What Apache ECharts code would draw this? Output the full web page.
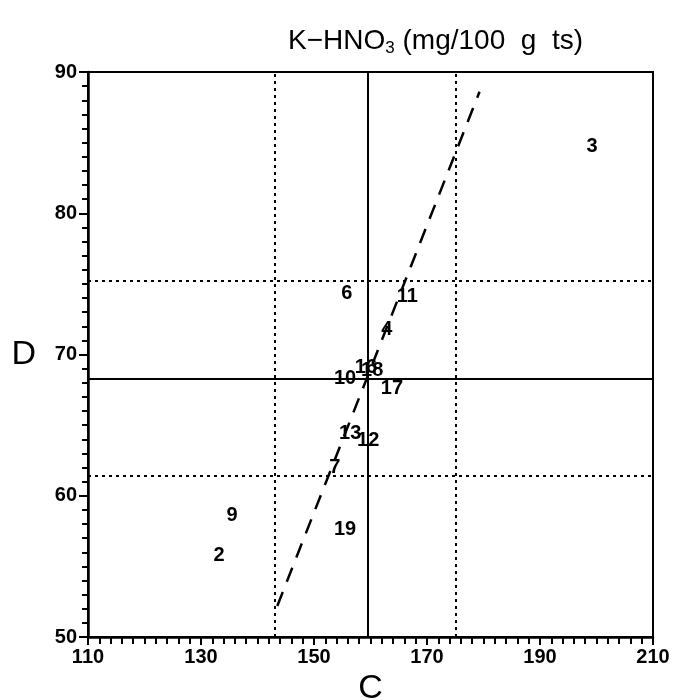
<!DOCTYPE html>
<html>
<head>
<meta charset="utf-8">
<script src="https://cdn.jsdelivr.net/npm/echarts@6/dist/echarts.min.js"></script>
<style>
html, body { margin: 0; padding: 0; background: #fff; }
#chart { width: 681px; height: 700px; }
</style>
</head>
<body>
<div id="chart"></div>
<script>
// point labels and their C / D values
var labels = ['3', '6', '11', '4', '10', '16', '18', '17', '13', '12', '7', '9', '2', '19'];
var cVals = [199.2, 155.8, 166.5, 162.9, 155.5, 159.2, 160.3, 163.8, 156.4, 159.6, 153.7, 135.5, 133.2, 155.5];
var dVals = [84.7, 74.3, 74.1, 71.8, 68.3, 69.1, 68.9, 67.6, 64.4, 63.9, 62.0, 58.6, 55.8, 57.6];

// mean and +/- sd lines
var cLines = [143.1, 159.5, 175.1];
var dLines = [61.4, 68.3, 75.25];
var lineKinds = ['dotted', 'solid', 'dotted'];

// regression line end points
var regC = [143.5, 179.3];
var regD = [52.2, 88.6];

function initPage() {
	var myChart = echarts.init(document.getElementById('chart'));
	var font = 'Liberation Sans';

	var pts = [];
	for (var i = 0; i < labels.length; i++) {
		pts.push({ value: [cVals[i], dVals[i]], name: labels[i] });
	}
	var marks = [];
	for (var j = 0; j < cLines.length; j++) {
		var t = lineKinds[j] === 'solid' ? 'solid' : [3, 4];
		marks.push({ xAxis: cLines[j], lineStyle: { type: t, width: 2, color: '#000' } });
		marks.push({ yAxis: dLines[j], lineStyle: { type: t, width: 2, color: '#000' } });
	}

	myChart.setOption({
		animation : false,
		title : {
			text : '{a|K\u2212HNO}{s|3}{a| (mg/100  g  ts)}',
			left : 283,
			top : 21,
			textStyle : {
				fontWeight : 'normal',
				rich : {
					a : { fontFamily : font, fontWeight : 'normal', fontSize : 28, color : '#000' },
					s : { fontFamily : font, fontWeight : 'normal', fontSize : 17, color : '#000', verticalAlign : 'bottom', padding : [14, 0, 0, 0] }
				}
			}
		},
		grid : {
			left : 88,
			right : 28,
			top : 72,
			bottom : 63,
			outerBoundsMode : 'none',
			containLabel : false,
			show : true,
			borderColor : '#000',
			borderWidth : 2
		},
		xAxis : {
			type : 'value',
			min : 110,
			max : 210,
			interval : 20,
			name : 'C',
			nameLocation : 'middle',
			nameGap : 33,
			nameTextStyle : { fontFamily : font, fontSize : 34, color : '#000' },
			axisLine : { lineStyle : { color : '#000', width : 2.5 } },
			axisTick : { inside : false, length : 8, lineStyle : { width : 2, color : '#000' } },
			minorTick : { show : true, splitNumber : 10, length : 7, lineStyle : { width : 2, color : '#000' } },
			axisLabel : { fontFamily : font, fontWeight : 'bold', fontSize : 20, color : '#000', margin : 10 },
			splitLine : { show : false }
		},
		yAxis : {
			type : 'value',
			min : 50,
			max : 90,
			interval : 10,
			name : 'D',
			nameLocation : 'middle',
			nameRotate : 0,
			nameGap : 52,
			nameTextStyle : { fontFamily : font, fontSize : 34, color : '#000' },
			axisLine : { lineStyle : { color : '#000', width : 2.5 } },
			axisTick : { inside : false, length : 9, lineStyle : { width : 2, color : '#000' } },
			minorTick : { show : true, splitNumber : 10, length : 6, lineStyle : { width : 2, color : '#000' } },
			axisLabel : { fontFamily : font, fontWeight : 'bold', fontSize : 20, color : '#000', margin : 11 },
			splitLine : { show : false }
		},
		series : [ {
			type : 'scatter',
			data : pts,
			symbolSize : 0,
			itemStyle : { opacity : 1 },
			label : {
				show : true,
				position : 'inside',
				formatter : '{b}',
				fontFamily : font,
				fontWeight : 'bold',
				fontSize : 20,
				color : '#000',
				opacity : 1
			},
			markLine : {
				silent : true,
				symbol : 'none',
				label : { show : false },
				data : marks
			},
			z : 5
		}, {
			type : 'line',
			data : [ [regC[0], regD[0]], [regC[1], regD[1]] ],
			showSymbol : false,
			lineStyle : { color : '#000', width : 2.5, type : [15, 11] },
			z : 4
		} ]
	});
}

initPage();
</script>
</body>
</html>
